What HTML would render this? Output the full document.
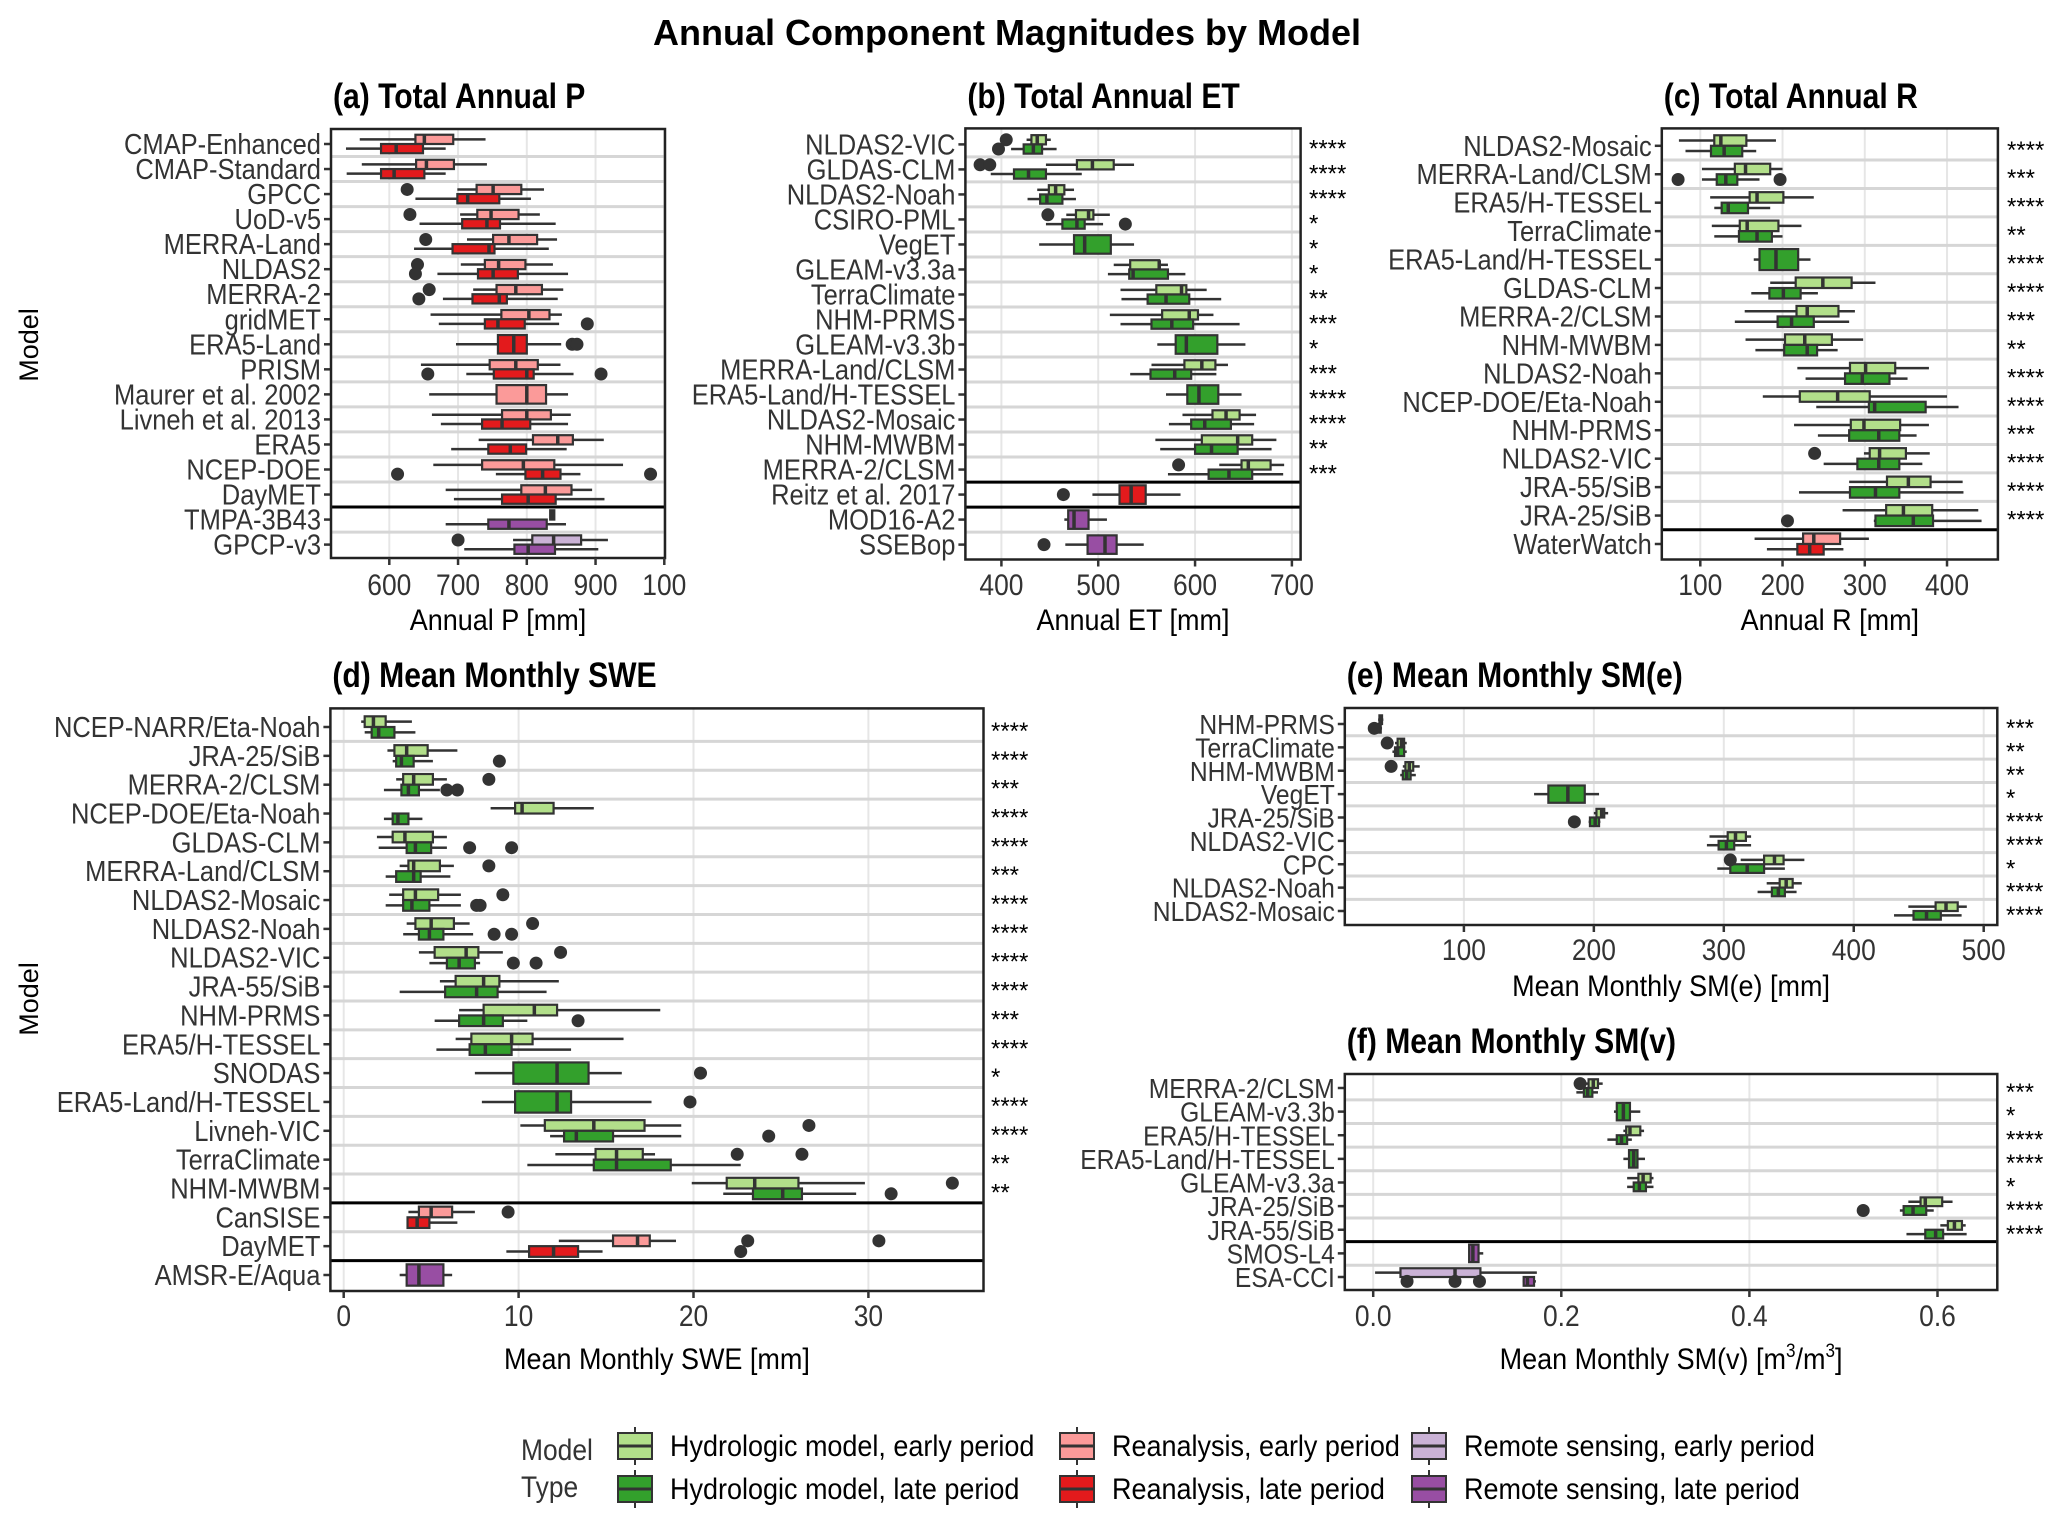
<!DOCTYPE html>
<html><head><meta charset="utf-8"><style>
html,body{margin:0;padding:0;background:#fff;}
svg{display:block;}
text{font-family:"Liberation Sans",sans-serif;}
</style></head><body>
<svg id="chart" xmlns="http://www.w3.org/2000/svg" width="2067" height="1526" viewBox="0 0 2067 1526">
<rect width="2067" height="1526" fill="#fff"/>
<text x="1007" y="45" text-anchor="middle" font-size="36" font-weight="bold" fill="#000">Annual Component Magnitudes by Model</text>
<text transform="translate(38,345) rotate(-90)" text-anchor="middle" font-size="27" fill="#000">Model</text>
<text transform="translate(38,999) rotate(-90)" text-anchor="middle" font-size="27" fill="#000">Model</text>
</svg>
<script>
// ---------- DATA ----------
const aCats=['CMAP-Enhanced','CMAP-Standard','GPCC','UoD-v5','MERRA-Land','NLDAS2','MERRA-2','gridMET','ERA5-Land','PRISM','Maurer et al. 2002','Livneh et al. 2013','ERA5','NCEP-DOE','DayMET','TMPA-3B43','GPCP-v3'];
const aEarly=[[557,638,651,693,740],[560,639,654,694,742],[699,727,751,792,825],[703,728,748,788,819],[713,751,774,815,844],[704,739,759,798,838],[722,756,784,822,853],[660,763,803,833,851],null,[646,746,784,816,849],[658,756,800,828,860],[662,764,800,835,864],[730,809,845,867,912],[664,735,795,840,940],[682,792,827,865,895],[834,834,837,840,840],[780,808,839,879,918]];
const aLate=[[537,588,610,649,682],[538,588,607,651,682],[638,699,714,760,806],[644,706,742,761,842],[636,692,745,753,832],[670,729,751,787,860],[678,721,760,771,845],[672,739,758,797,847],[697,758,781,800,850],[712,752,800,810,868],null,[675,735,764,805,860],[690,744,776,799,858],[755,798,823,849,878],[694,764,802,842,913],[682,744,774,829,857],[709,782,802,841,904]];
const aOutE=[[],[],[626],[630],[653],[641],[658],[],[],[],[],[],[],[],[],[],[700]];
const aOutL=[[],[],[],[],[],[638],[643],[888],[866,873],[656,908],[],[],[],[612,980],[],[],[]];
const aTypes='rrrrrrrrrrrrrrrss';
const aStars=[];
const aTicks=[600,700,800,900,1000];
const aTickLabels=['600','700','800','900','100'];

const bCats=['NLDAS2-VIC','GLDAS-CLM','NLDAS2-Noah','CSIRO-PML','VegET','GLEAM-v3.3a','TerraClimate','NHM-PRMS','GLEAM-v3.3b','MERRA-Land/CLSM','ERA5-Land/H-TESSEL','NLDAS2-Mosaic','NHM-MWBM','MERRA-2/CLSM','Reitz et al. 2017','MOD16-A2','SSEBop'];
const bEarly=[[426,431,437,446,451],[446,478,494,516,537],[437,449,456,465,475],[467,477,490,495,512],null,[516,533,563,563,572],[523,560,586,591,612],[512,566,594,603,619],null,[555,589,607,621,634],null,[587,618,632,646,663],[559,607,644,659,684],[625,648,655,678,692],null,null,null];
const bLate=[[410,423,433,442,457],[389,413,428,446,483],[427,440,447,463,477],[446,463,478,486,505],[439,475,486,513,537],[510,532,536,572,590],[524,551,570,594,627],[523,555,576,598,646],[561,580,591,623,652],[533,554,579,596,622],[570,592,604,624,648],[573,596,610,637,661],[564,600,617,644,679],[572,614,635,659,691],[494,522,534,549,585],[465,469,475,490,509],[466,489,507,519,547]];
const bOutE=[[405],[378,388],[],[448],[],[],[],[],[],[],[],[],[],[583],[],[],[]];
const bOutL=[[397],[],[],[528],[],[],[],[],[],[],[],[],[],[],[464],[],[444]];
const bTypes='hhhhhhhhhhhhhhrss';
const bStars=['****','****','****','*','*','*','**','***','*','***','****','****','**','***','','',''];
const bTicks=[400,500,600,700];
const bTickLabels=['400','500','600','700'];

const cCats=['NLDAS2-Mosaic','MERRA-Land/CLSM','ERA5/H-TESSEL','TerraClimate','ERA5-Land/H-TESSEL','GLDAS-CLM','MERRA-2/CLSM','NHM-MWBM','NLDAS2-Noah','NCEP-DOE/Eta-Noah','NHM-PRMS','NLDAS2-VIC','JRA-55/SiB','JRA-25/SiB','WaterWatch'];
const cEarly=[[74,117,125,156,192],[102,142,155,185,200],[112,160,169,201,238],[114,148,157,195,223],null,[185,216,249,284,313],[154,217,230,268,288],[155,203,227,260,298],[218,282,301,337,378],[176,221,267,306,400],[214,283,299,343,378],[299,306,318,350,379],[281,327,353,380,419],[273,326,347,382,438],[166,225,238,270,305]];
const cLate=[[82,113,129,151,168],[102,120,131,145,172],[117,126,134,158,185],[117,147,169,187,200],[165,172,192,219,234],[162,184,201,222,243],[142,194,211,238,281],[167,202,230,242,267],[228,276,297,330,352],[241,305,312,374,414],[243,281,317,342,363],[250,291,317,342,370],[220,282,313,342,420],[311,313,359,383,442],[181,218,233,250,274]];
const cOutE=[[],[],[],[],[],[],[],[],[],[],[],[239],[],[],[]];
const cOutL=[[],[73,197],[],[],[],[],[],[],[],[],[],[],[],[206],[]];
const cTypes='hhhhhhhhhhhhhhr';
const cStars=['****','***','****','**','****','****','***','**','****','****','***','****','****','****',''];
const cTicks=[100,200,300,400];
const cTickLabels=['100','200','300','400'];

const dCats=['NCEP-NARR/Eta-Noah','JRA-25/SiB','MERRA-2/CLSM','NCEP-DOE/Eta-Noah','GLDAS-CLM','MERRA-Land/CLSM','NLDAS2-Mosaic','NLDAS2-Noah','NLDAS2-VIC','JRA-55/SiB','NHM-PRMS','ERA5/H-TESSEL','SNODAS','ERA5-Land/H-TESSEL','Livneh-VIC','TerraClimate','NHM-MWBM','CanSISE','DayMET','AMSR-E/Aqua'];
const dEarly=[[1.0,1.2,1.7,2.4,3.9],[2.5,2.9,3.6,4.8,6.5],[3.0,3.4,4.0,5.1,5.9],[8.4,9.8,10.2,12.0,14.3],[1.9,2.8,3.5,5.1,5.9],[3.2,3.7,4.0,5.5,6.3],[2.6,3.4,4.1,5.4,6.7],[3.6,4.1,5.0,6.3,7.2],[4.3,5.2,7.0,7.7,9.1],[5.5,6.4,8.0,8.9,12.3],[6.6,8.0,10.9,12.2,18.1],[6.4,7.3,9.6,10.8,16.0],null,null,[10.1,11.5,14.3,17.2,19.3],[12.1,14.4,15.6,17.1,17.8],[19.9,21.9,23.5,26.0,29.8],[3.7,4.3,5.0,6.2,7.5],[12.3,15.4,16.8,17.5,19.0],null];
const dLate=[[1.2,1.6,2.0,2.9,4.1],[2.8,3.0,3.3,4.0,5.1],[2.3,3.3,3.7,4.3,5.5],[2.3,2.8,3.1,3.7,4.5],[2.0,3.6,4.1,5.0,5.9],[2.4,3.0,4.0,4.4,6.1],[2.4,3.4,3.9,4.9,6.7],[3.4,4.3,4.9,5.7,7.4],[4.9,5.9,6.6,7.5,7.8],[3.2,5.8,7.6,8.8,11.6],[5.2,6.6,8.0,9.1,10.5],[5.3,7.2,8.1,9.6,13.0],[7.5,9.7,12.2,14.0,15.9],[7.9,9.8,12.2,13.0,17.6],[11.8,12.6,13.3,15.4,19.3],[10.5,14.3,15.6,18.7,22.7],[21.7,23.4,25.1,26.2,29.3],[3.7,3.65,4.2,4.9,6.5],[9.3,10.6,12.0,13.4,14.8],[3.2,3.6,4.3,5.7,6.2]];
const dOutE=[[],[],[8.3],[],[],[8.3],[9.1],[10.8],[12.4],[],[],[],[],[],[26.6],[22.5,26.2],[34.8],[9.4],[23.1,30.6],[]];
const dOutL=[[],[8.9],[5.9,6.5],[],[7.2,9.6],[],[7.6,7.8],[8.6,9.6],[9.7,11.0],[],[13.4],[],[20.4],[19.8],[24.3],[],[31.3],[],[22.7],[]];
const dTypes='hhhhhhhhhhhhhhhhhrrs';
const dStars=['****','****','***','****','****','***','****','****','****','****','***','****','*','****','****','**','**','','',''];
const dTicks=[0,10,20,30];
const dTickLabels=['0','10','20','30'];

const eCats=['NHM-PRMS','TerraClimate','NHM-MWBM','VegET','JRA-25/SiB','NLDAS2-VIC','CPC','NLDAS2-Noah','NLDAS2-Mosaic'];
const eEarly=[[34,35,36,37,38],[47,49,52,54,56],[53,55,58,61,66],null,[200,202,206,208,211],[289,303,309,317,321],[313,331,339,346,362],[333,343,348,353,360],[442,463,471,480,487]];
const eLate=[[29,30,32,36,37],[45,47,49,54,56],[51,53,56,59,63],[154,165,180,193,204],[196,197,201,204,205],[287,296,302,308,321],[295,305,318,331,347],[326,337,342,347,356],[431,446,456,467,483]];
const eOutE=[[],[41],[44],[],[],[],[305],[],[]];
const eOutL=[[31],[],[],[],[185],[],[],[],[]];
const eTypes='hhhhhhhhh';
const eStars=['***','**','**','*','****','****','*','****','****'];
const eTicks=[100,200,300,400,500];
const eTickLabels=['100','200','300','400','500'];

const fCats=['MERRA-2/CLSM','GLEAM-v3.3b','ERA5/H-TESSEL','ERA5-Land/H-TESSEL','GLEAM-v3.3a','JRA-25/SiB','JRA-55/SiB','SMOS-L4','ESA-CCI'];
const fEarly=[[0.226,0.229,0.234,0.239,0.244],null,[0.266,0.269,0.273,0.284,0.288],null,[0.270,0.282,0.287,0.295,0.298],[0.569,0.582,0.587,0.605,0.616],[0.603,0.611,0.618,0.626,0.630],null,[0.002,0.029,0.087,0.114,0.174]];
const fLate=[[0.216,0.224,0.228,0.233,0.239],[0.256,0.259,0.266,0.273,0.284],[0.249,0.259,0.264,0.270,0.275],[0.266,0.272,0.277,0.281,0.289],[0.270,0.277,0.283,0.290,0.298],[0.560,0.564,0.574,0.588,0.596],[0.567,0.587,0.598,0.606,0.631],[0.102,0.102,0.106,0.112,0.117],[0.159,0.160,0.164,0.171,0.173]];
const fOutE=[[0.220],[],[],[],[],[],[],[],[]];
const fOutL=[[],[],[],[],[],[0.521],[],[],[0.036,0.087,0.113]];
const fTypes='hhhhhhhss';
const fStars=['***','*','****','****','*','****','****','',''];
const fTicks=[0,0.2,0.4,0.6];
const fTickLabels=['0.0','0.2','0.4','0.6'];

// ---------- RENDER ----------
const NS='http://www.w3.org/2000/svg';
const svg=document.getElementById('chart');
const COLORS={h:['#b2df8a','#33a02c'],r:['#fb9a99','#e31a1c'],s:['#cab2d6','#984ea3']};
function mk(parent,tag,attrs){const el=document.createElementNS(NS,tag);for(const k in attrs)el.setAttribute(k,attrs[k]);parent.appendChild(el);return el;}
function ctext(parent,x,y,str,size,anchor,weight,sx){
  const t=mk(parent,'text',{x:0,y:0,transform:`translate(${x},${y}) scale(${sx},1)`,'font-size':size,'text-anchor':anchor,'font-weight':weight,fill:'#333'});
  t.textContent=str;return t;
}
function drawBox(g,st,yc,h,fill,sc,name){
  const x=v=>sc(v);
  const wl=mk(g,'line',{x1:x(st[0]),x2:x(st[1]),y1:yc,y2:yc,stroke:'#333','stroke-width':2.5});
  
  
  const wh=mk(g,'line',{x1:x(st[3]),x2:x(st[4]),y1:yc,y2:yc,stroke:'#333','stroke-width':2.5});
  
  
  const r=mk(g,'rect',{x:x(st[1]),y:yc-h/2,width:Math.max(1.5,x(st[3])-x(st[1])),height:h,fill:fill,stroke:'#333','stroke-width':2.2});
  
  
  const m=mk(g,'line',{x1:x(st[2]),x2:x(st[2]),y1:yc-h/2,y2:yc+h/2,stroke:'#333','stroke-width':3.5});
  
  
}
function drawPanel(id,cfg,cats,early,late,outE,outL,types,stars,ticks,tickLabels,seps){
  const g=mk(svg,'g',{});
  
  
  const sc=v=>cfg.p0+(v-cfg.v0)*cfg.k;
  const n=cats.length, step=(cfg.y1-cfg.y0)/(n-1);
  const yr=i=>cfg.y0+i*step;
  const bh=step*0.37;
  ticks.forEach((t,i)=>{
    const gl=mk(g,'line',{x1:sc(t),x2:sc(t),y1:cfg.T,y2:cfg.B,stroke:'#e6e6e6','stroke-width':2});
    
    
  });
  for(let i=0;i<n-1;i++){
    const yy=yr(i)+step/2;
    const black=seps.includes(i);
    const hl=mk(g,'line',{x1:cfg.L,x2:cfg.R,y1:yy,y2:yy,stroke:black?'#000':'#d6d6d6','stroke-width':3});
    
    
  }
  for(let i=0;i<n;i++){
    const cols=COLORS[types[i]], y=yr(i);
    const e=early[i], l=late[i];
    if(e&&l){
      drawBox(g,e,y-bh/2,bh,cols[0],sc,cats[i]+'-early');
      drawBox(g,l,y+bh/2,bh,cols[1],sc,cats[i]+'-late');
    }else if(e){drawBox(g,e,y,bh*2,cols[0],sc,cats[i]+'-early');}
    else if(l){drawBox(g,l,y,bh*2,cols[1],sc,cats[i]+'-late');}
    const oyE=(e&&l)?y-bh/2:y, oyL=(e&&l)?y+bh/2:y;
    outE[i].forEach(v=>{
      const c=mk(g,'circle',{cx:sc(v),cy:oyE,r:6.5,fill:'#333'});
      
      
    });
    outL[i].forEach(v=>{
      const c=mk(g,'circle',{cx:sc(v),cy:oyL,r:6.5,fill:'#333'});
      
      
    });
    const tk=mk(g,'line',{x1:cfg.L-7,x2:cfg.L,y1:y,y2:y,stroke:'#333','stroke-width':2.5});
    
    
    const lb=ctext(g,cfg.L-10,y+10,cats[i],cfg.fs,'end','normal',0.88);
    
    
    if(stars[i]){
      const s=mk(g,'text',{x:cfg.starX,y:y+12,'font-size':24,fill:'#000'});
      s.textContent=stars[i];
      
      
    }
  }
  const fr=mk(g,'rect',{x:cfg.L,y:cfg.T,width:cfg.R-cfg.L,height:cfg.B-cfg.T,fill:'none',stroke:'#222','stroke-width':2.5});
  
  
  ticks.forEach((t,i)=>{
    const tl=mk(g,'line',{x1:sc(t),x2:sc(t),y1:cfg.B,y2:cfg.B+7,stroke:'#333','stroke-width':2.5});
    
    
    const lb=ctext(g,sc(t),cfg.tickY,tickLabels[i],30,'middle','normal',0.88);
    
    
  });
  const tt=ctext(g,cfg.L+2,cfg.titleY,cfg.title,35,'start','bold',0.86);
  tt.setAttribute('fill','#000');
  
  
  const at=ctext(g,(cfg.L+cfg.R)/2,cfg.axisY,cfg.axis,30,'middle','normal',0.9);
  at.setAttribute('fill','#000');
  
  
  if(cfg.sup){
    at.textContent='Mean Monthly SM(v) [m';
    const s1=mk(at,'tspan',{'font-size':19,dy:-12});s1.textContent='3';
    const s2=mk(at,'tspan',{dy:12});s2.textContent='/m';
    const s3=mk(at,'tspan',{'font-size':19,dy:-12});s3.textContent='3';
    const s4=mk(at,'tspan',{dy:12});s4.textContent=']';
  }
}
drawPanel('a',{L:331,R:665,T:129,B:558,y0:144,y1:544.6,v0:600,p0:389.3,k:0.6875,starX:0,fs:29,tickY:595,titleY:108,axisY:630,title:'(a) Total Annual P',axis:'Annual P [mm]'},aCats,aEarly,aLate,aOutE,aOutL,aTypes,aStars,aTicks,aTickLabels,[14]);
drawPanel('b',{L:965.4,R:1300.6,T:128.4,B:559.5,y0:144.4,y1:544.6,v0:400,p0:1001.4,k:0.9683,starX:1309,fs:29,tickY:595,titleY:108,axisY:630,title:'(b) Total Annual ET',axis:'Annual ET [mm]'},bCats,bEarly,bLate,bOutE,bOutL,bTypes,bStars,bTicks,bTickLabels,[13,14]);
drawPanel('c',{L:1661.8,R:1997.9,T:128.4,B:559.5,y0:145.8,y1:544,v0:100,p0:1700.3,k:0.8224,starX:2007,fs:29,tickY:595,titleY:108,axisY:630,title:'(c) Total Annual R',axis:'Annual R [mm]'},cCats,cEarly,cLate,cOutE,cOutL,cTypes,cStars,cTicks,cTickLabels,[13]);
drawPanel('d',{L:330.4,R:983.5,T:708.4,B:1291,y0:727,y1:1275,v0:0,p0:343.7,k:17.49,starX:991,fs:29,tickY:1326,titleY:687,axisY:1369,title:'(d) Mean Monthly SWE',axis:'Mean Monthly SWE [mm]'},dCats,dEarly,dLate,dOutE,dOutL,dTypes,dStars,dTicks,dTickLabels,[16,18]);
drawPanel('e',{L:1344.8,R:1997.3,T:708,B:925,y0:724,y1:911,v0:100,p0:1463.9,k:1.2995,starX:2006,fs:28,tickY:960,titleY:687,axisY:996,title:'(e) Mean Monthly SM(e)',axis:'Mean Monthly SM(e) [mm]'},eCats,eEarly,eLate,eOutE,eOutL,eTypes,eStars,eTicks,eTickLabels,[]);
drawPanel('f',{L:1344.8,R:1997.3,T:1074,B:1290,y0:1088,y1:1277,v0:0,p0:1373.2,k:940.5,starX:2006,fs:28,tickY:1326,titleY:1053,axisY:1369,title:'(f) Mean Monthly SM(v)',axis:'',sup:true},fCats,fEarly,fLate,fOutE,fOutL,fTypes,fStars,fTicks,fTickLabels,[6]);

// ---------- LEGEND ----------
const lg=mk(svg,'g',{});


const lt1=ctext(lg,521,1460,'Model',30,'start','normal',0.88);


const lt2=ctext(lg,521,1497,'Type',30,'start','normal',0.88);


const legLabels=[['Hydrologic model, early period','Hydrologic model, late period'],['Reanalysis, early period','Reanalysis, late period'],['Remote sensing, early period','Remote sensing, late period']];
const legKeys=['h','r','s'];
const legX=[618,1060,1412];
const legY=[1446,1489];
for(let c=0;c<3;c++){for(let r=0;r<2;r++){
  const x=legX[c], y=legY[r];
  const kl=mk(lg,'line',{x1:x+17,x2:x+17,y1:y-19,y2:y+19,stroke:'#333','stroke-width':2});
  
  
  const kr=mk(lg,'rect',{x:x,y:y-13,width:34,height:26,fill:COLORS[legKeys[c]][r],stroke:'#333','stroke-width':2});
  
  
  const km=mk(lg,'line',{x1:x,x2:x+34,y1:y,y2:y,stroke:'#333','stroke-width':3});
  
  
  const tx=ctext(lg,x+52,y+10,legLabels[c][r],30,'start','normal',0.9);
  tx.setAttribute('fill','#000');
  
  
}}
</script>
</body></html>
